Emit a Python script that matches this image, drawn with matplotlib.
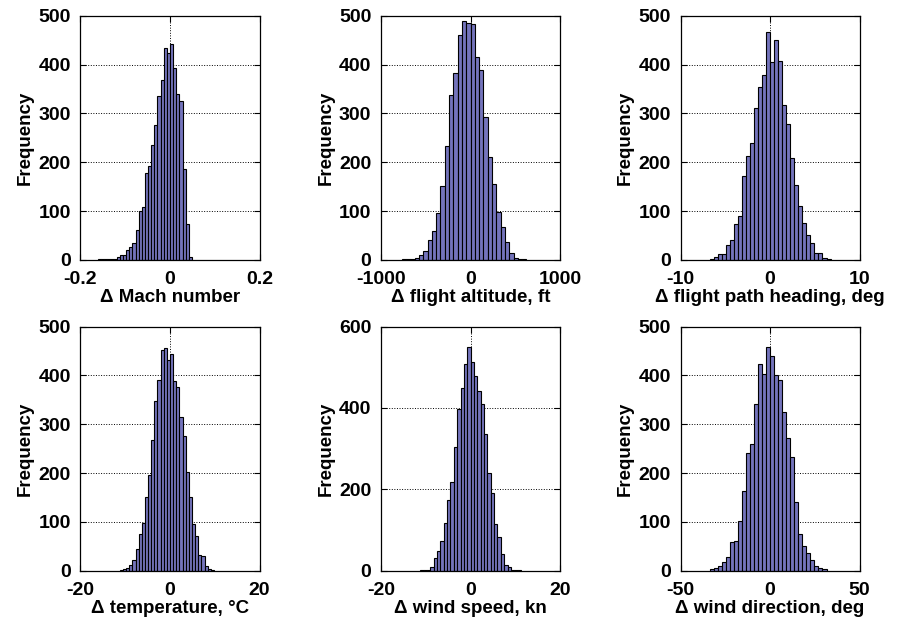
import matplotlib
matplotlib.use("Agg")
import matplotlib.pyplot as plt
import numpy as np

plt.rcParams['font.family'] = ['Liberation Sans', 'DejaVu Sans']
plt.rcParams['axes.unicode_minus'] = False

# bin counts, left to right, and the range they span
mach_counts = [1, 1, 1, 1, 3, 3, 7, 10, 10, 20, 27, 35, 61, 100, 109, 178, 192, 235,
               277, 336, 368, 435, 424, 443, 393, 340, 325, 187, 73, 7]
mach_range = (-0.161, 0.049)

alt_counts = [1, 1, 2, 5, 10, 19, 41, 60, 97, 152, 233, 338, 382, 460, 490, 485, 483,
              416, 389, 293, 210, 156, 99, 68, 36, 15, 5, 2, 1]
alt_range = (-768, 624)

head_counts = [3, 7, 12, 12, 31, 41, 74, 91, 171, 213, 239, 311, 354, 379, 466, 406,
               451, 407, 317, 278, 208, 154, 111, 76, 51, 34, 15, 14, 5, 3]
head_range = (-6.75, 6.75)

temp_counts = [1, 3, 5, 12, 22, 44, 75, 98, 151, 196, 268, 347, 390, 452, 456, 432,
               444, 388, 376, 315, 275, 202, 150, 95, 71, 32, 31, 10, 3, 1]
temp_range = (-11.2, 9.8)

wspd_counts = [2, 2, 3, 8, 31, 49, 74, 117, 173, 217, 305, 397, 450, 508, 551, 512,
               479, 442, 409, 337, 240, 191, 115, 84, 41, 14, 10, 3, 1, 1]
wspd_range = (-11.25, 11.25)

wdir_counts = [3, 5, 10, 18, 29, 58, 60, 101, 164, 242, 260, 341, 424, 403, 458, 439,
               400, 390, 325, 272, 232, 140, 75, 51, 36, 21, 10, 5, 3]
wdir_range = (-33.75, 31.5)

panels = [
    (mach_counts, mach_range, [-0.2, 0, 0.2], ['-0.2', '0', '0.2'], 500, 100, 'Δ Mach number'),
    (alt_counts, alt_range, [-1000, 0, 1000], ['-1000', '0', '1000'], 500, 100, 'Δ flight altitude, ft'),
    (head_counts, head_range, [-10, 0, 10], ['-10', '0', '10'], 500, 100, 'Δ flight path heading, deg'),
    (temp_counts, temp_range, [-20, 0, 20], ['-20', '0', '20'], 500, 100, 'Δ temperature, °C'),
    (wspd_counts, wspd_range, [-20, 0, 20], ['-20', '0', '20'], 600, 200, 'Δ wind speed, kn'),
    (wdir_counts, wdir_range, [-50, 0, 50], ['-50', '0', '50'], 500, 100, 'Δ wind direction, deg'),
]

fig = plt.figure(figsize=(8.98, 6.26), dpi=100)

lefts = [0.0896, 0.4243, 0.7578]
bottoms = [0.5847, 0.0883]
w, h = 0.1995, 0.390

for i, (counts, rng, xt, xtl, ymax, ystep, xlabel) in enumerate(panels):
    ax = fig.add_axes([lefts[i % 3], bottoms[i // 3], w, h])
    counts = np.array(counts)
    edges = np.linspace(rng[0], rng[1], len(counts) + 1)
    ax.bar(edges[:-1], counts, width=np.diff(edges), align='edge',
           color='#7474BC', edgecolor='black', linewidth=0.8)
    ax.set_xlim(xt[0], xt[-1])
    ax.set_ylim(0, ymax)
    ax.set_xticks(xt)
    ax.set_xticklabels(xtl)
    ax.set_yticks(np.arange(0, ymax + 1, ystep))
    ax.set_axisbelow(True)
    ax.grid(True, linestyle=':', color='black', linewidth=0.7)
    ax.tick_params(direction='in', top=True, right=True, length=4, width=0.8,
                   labelsize=14)
    ax.tick_params(axis='x', pad=8)
    ax.tick_params(axis='y', pad=7)
    for lab in ax.get_xticklabels() + ax.get_yticklabels():
        lab.set_fontweight('bold')
    for s in ax.spines.values():
        s.set_linewidth(0.9)
    ax.set_xlabel(xlabel, fontsize=13.5, fontweight='bold', labelpad=1)
    ax.set_ylabel('Frequency', fontsize=13.5, fontweight='bold', labelpad=3)

fig.savefig('out.png', dpi=100)
